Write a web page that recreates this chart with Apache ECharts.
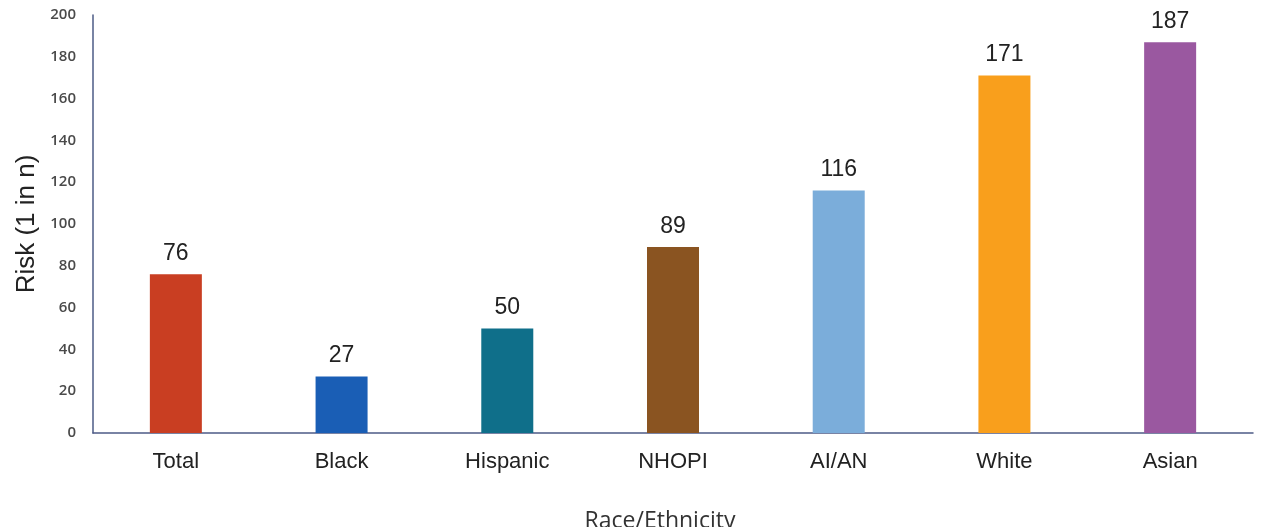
<!DOCTYPE html>
<html>
<head>
<meta charset="utf-8">
<script src="https://cdn.jsdelivr.net/npm/echarts@6/dist/echarts.min.js"></script>
<style>
  html, body { margin: 0; padding: 0; background: #ffffff; overflow: hidden; }
  #chart { width: 1263px; height: 527px; }
</style>
</head>
<body>
<div id="chart"></div>
<script>
// Lifetime risk (1 in n) by race/ethnicity
const categories = ['Total', 'Black', 'Hispanic', 'NHOPI', 'AI/AN', 'White', 'Asian'];
const riskValues = [76, 27, 50, 89, 116, 171, 187];
const barColors = ['#c93e22', '#1a5eb5', '#0f6f8a', '#8a5421', '#7badda', '#f99f1c', '#9a58a0'];
const yTicks = { min: 0, max: 200, interval: 20 };

const chart = echarts.init(document.getElementById('chart'), null, {
  renderer: 'canvas', width: 1263, height: 527
});

chart.setOption({
  animation: false,
  backgroundColor: '#ffffff',
  grid: {
    left: 93, right: 10, top: 15, bottom: 94,
    containLabel: false,
    outerBoundsMode: 'none'
  },
  xAxis: {
    type: 'category',
    data: categories,
    name: 'Race/Ethnicity',
    nameLocation: 'middle',
    nameGap: 77,
    nameTextStyle: { fontFamily: 'Open Sans', fontSize: 23, color: '#333333', padding: [0, 26, 0, 0] },
    axisLine: { show: true, lineStyle: { color: '#4d5b86', width: 1.5 } },
    axisTick: { show: false },
    axisLabel: { fontFamily: 'Liberation Sans, Arial', fontSize: 22, color: '#222222', margin: 18 }
  },
  yAxis: {
    type: 'value',
    min: yTicks.min,
    max: yTicks.max,
    interval: yTicks.interval,
    name: 'Risk (1 in n)',
    nameLocation: 'middle',
    nameRotate: 90,
    nameGap: 43,
    nameTextStyle: { fontFamily: 'Liberation Sans, Arial', fontSize: 26, color: '#222222' },
    axisLine: { show: true, lineStyle: { color: '#4d5b86', width: 1.5 } },
    axisTick: { show: false },
    splitLine: { show: false },
    axisLabel: { fontFamily: 'Open Sans', fontSize: 15, fontWeight: 600, color: '#4a4a4a', margin: 17 }
  },
  series: [{
    type: 'bar',
    barWidth: 52,
    data: riskValues.map((v, i) => ({ value: v, itemStyle: { color: barColors[i] } })),
    label: {
      show: true,
      position: 'top',
      distance: 9,
      fontFamily: 'Liberation Sans, Arial',
      fontSize: 23,
      color: '#222222'
    }
  }]
});
</script>
</body>
</html>
